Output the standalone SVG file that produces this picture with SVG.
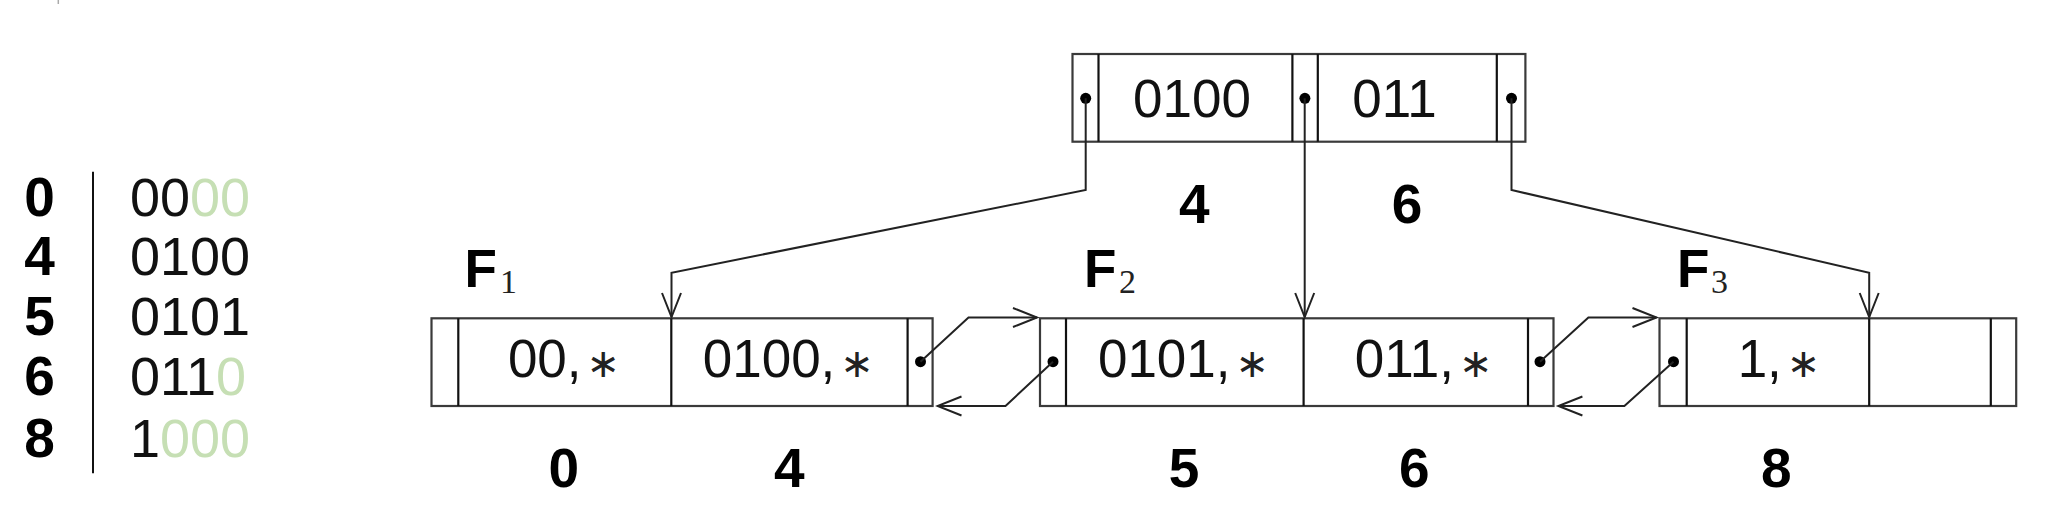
<svg xmlns="http://www.w3.org/2000/svg" width="2045" height="515" viewBox="0 0 2045 515">
  <defs>
    <style>
      .box { fill: #ffffff; stroke: #3a3a3a; stroke-width: 2.2; }
      .div { stroke: #111111; stroke-width: 2.2; fill: none; }
      .dot { fill: #000000; }
      .conn { fill: none; stroke: #222222; stroke-width: 2; stroke-linejoin: miter; }
      .lab { font-family: "Liberation Sans", Arial, sans-serif; font-weight: bold; font-size: 55px; fill: #000; text-anchor: middle; }
      .code { font-family: "Liberation Sans", Arial, sans-serif; font-size: 54px; fill: #111; }
      .key { font-family: "Liberation Sans", Arial, sans-serif; font-size: 53px; fill: #111; text-anchor: middle; }
      .ast { font-family: "DejaVu Sans", sans-serif; font-size: 40px; fill: #222; }
      .green { fill: #c6dfb4; }
      .flab { font-family: "Liberation Sans", Arial, sans-serif; font-weight: bold; font-size: 53px; fill: #000; }
      .sub { font-family: "Liberation Serif", "Times New Roman", serif; font-weight: normal; font-size: 34px; fill: #222; }
    </style>
    <marker id="arr" markerUnits="userSpaceOnUse" markerWidth="28" markerHeight="24" refX="25" refY="11" orient="auto" viewBox="0 0 28 24">
      <path d="M1,1.5 L25,11 L1,20.5" fill="none" stroke="#222222" stroke-width="2"/>
    </marker>
  </defs>

  <line x1="58.3" y1="0" x2="58.3" y2="4" stroke="#aaaaaa" stroke-width="1.5"/>

  <g id="table">
    <line x1="93" y1="171.7" x2="93" y2="473.3" stroke="#111" stroke-width="2"/>
    <text class="lab" x="39.5" y="216">0</text>
    <text class="lab" x="39.5" y="274.5">4</text>
    <text class="lab" x="39.5" y="335">5</text>
    <text class="lab" x="39.5" y="395">6</text>
    <text class="lab" x="39.5" y="456.7">8</text>
    <text class="code" x="130" y="216">00<tspan class="green">00</tspan></text>
    <text class="code" x="130" y="274.5">0100</text>
    <text class="code" x="130" y="335">0101</text>
    <text class="code" x="130" y="395">011<tspan class="green">0</tspan></text>
    <text class="code" x="130" y="456.7">1<tspan class="green">000</tspan></text>
  </g>

  <g id="root">
    <rect class="box" x="1072.5" y="54" width="452.9" height="87.7"/>
    <line class="div" x1="1098.5" y1="54" x2="1098.5" y2="141.7"/>
    <line class="div" x1="1292.4" y1="54" x2="1292.4" y2="141.7"/>
    <line class="div" x1="1317.8" y1="54" x2="1317.8" y2="141.7"/>
    <line class="div" x1="1496.8" y1="54" x2="1496.8" y2="141.7"/>
    <circle class="dot" cx="1085.7" cy="98.3" r="5.5"/>
    <circle class="dot" cx="1304.9" cy="98.3" r="5.5"/>
    <circle class="dot" cx="1511.5" cy="98.3" r="5.5"/>
    <text class="key" x="1192" y="116.7">0100</text>
    <text class="key" x="1394.6" y="116.7">011</text>
    <text class="lab" x="1194.2" y="222.7">4</text>
    <text class="lab" x="1407.1" y="222.7">6</text>
  </g>

  <g id="F1">
    <rect class="box" x="431.5" y="318.3" width="501.1" height="87.7"/>
    <line class="div" x1="458.3" y1="318.3" x2="458.3" y2="406"/>
    <line class="div" x1="671.3" y1="318.3" x2="671.3" y2="406"/>
    <line class="div" x1="907.6" y1="318.3" x2="907.6" y2="406"/>
    <circle class="dot" cx="920.5" cy="361.7" r="5.5"/>
    <text class="key" x="564" y="376.7">00,<tspan class="ast" dx="5">∗</tspan></text>
    <text class="key" x="788.3" y="376.7">0100,<tspan class="ast" dx="5">∗</tspan></text>
    <text class="flab" x="464.5" y="286.7">F</text>
    <text class="sub" x="500" y="293.3">1</text>
    <text class="lab" x="563.8" y="486.7">0</text>
    <text class="lab" x="789.3" y="486.7">4</text>
  </g>

  <g id="F2">
    <rect class="box" x="1040" y="318.3" width="513.5" height="87.7"/>
    <line class="div" x1="1066" y1="318.3" x2="1066" y2="406"/>
    <line class="div" x1="1303.6" y1="318.3" x2="1303.6" y2="406"/>
    <line class="div" x1="1528" y1="318.3" x2="1528" y2="406"/>
    <circle class="dot" cx="1053" cy="361.7" r="5.5"/>
    <circle class="dot" cx="1540" cy="361.7" r="5.5"/>
    <text class="key" x="1183.5" y="376.7">0101,<tspan class="ast" dx="5">∗</tspan></text>
    <text class="key" x="1423.6" y="376.7">011,<tspan class="ast" dx="5">∗</tspan></text>
    <text class="flab" x="1084" y="286.7">F</text>
    <text class="sub" x="1119" y="293.3">2</text>
    <text class="lab" x="1184" y="486.7">5</text>
    <text class="lab" x="1414.3" y="486.7">6</text>
  </g>

  <g id="F3">
    <rect class="box" x="1659.5" y="318.3" width="356.7" height="87.7"/>
    <line class="div" x1="1686.7" y1="318.3" x2="1686.7" y2="406"/>
    <line class="div" x1="1869.2" y1="318.3" x2="1869.2" y2="406"/>
    <line class="div" x1="1990.8" y1="318.3" x2="1990.8" y2="406"/>
    <circle class="dot" cx="1673.5" cy="361.7" r="5.5"/>
    <text class="key" x="1779" y="376.7">1,<tspan class="ast" dx="5">∗</tspan></text>
    <text class="flab" x="1677" y="286.7">F</text>
    <text class="sub" x="1711" y="293.3">3</text>
    <text class="lab" x="1776.3" y="486.7">8</text>
  </g>

  <g id="connectors">
    <path class="conn" d="M1085.7,98.3 V190 L671.5,272.7 V317" marker-end="url(#arr)"/>
    <path class="conn" d="M1304.7,98.3 V317" marker-end="url(#arr)"/>
    <path class="conn" d="M1511.5,98.3 V190 L1869.2,272.7 V317" marker-end="url(#arr)"/>
    <path class="conn" d="M920.5,361.7 L968.5,317.5 H1037" marker-end="url(#arr)"/>
    <path class="conn" d="M1053,361.7 L1005.5,406 H937.5" marker-end="url(#arr)"/>
    <path class="conn" d="M1540,361.7 L1588.4,317.5 H1656.5" marker-end="url(#arr)"/>
    <path class="conn" d="M1673.5,361.7 L1624.4,406 H1558.4" marker-end="url(#arr)"/>
  </g>
</svg>
